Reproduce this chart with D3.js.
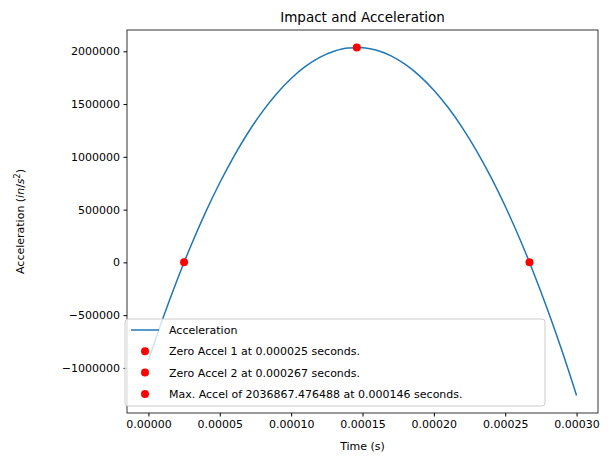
<!DOCTYPE html><html><head><meta charset="utf-8"><script src="https://cdn.jsdelivr.net/npm/d3@7"></script>
<style>body{margin:0;background:#fff}text{font-family:"DejaVu Sans",sans-serif}</style></head><body><svg id="c" width="614" height="467"></svg><script>
const times=[0,0.00001,0.00002,0.00003,0.00004,0.00005,0.00006,0.00007,0.00008,0.00009,0.0001,0.00011,0.00012,0.00013,0.00014,0.00015,0.00016,0.00017,0.00018,0.00019,0.0002,0.00021,0.00022,0.00023,0.00024,0.00025,0.00026,0.00027,0.00028,0.00029,0.0003];
const accel=[-928493,-536231,-171789,164834,473636,754618,1007780,1233122,1430644,1600346,1742228,1856290,1942532,2000954,2031556,2034338,2009300,1956442,1875764,1767266,1630948,1466810,1274852,1055074,807476,532058,228820,-102239,-461117,-847815,-1262333];
const pointT=[0.000025,0.000267,0.000146];
const pointA=[0,0,2036867.476488];
const legendLabels=["Acceleration","Zero Accel 1 at 0.000025 seconds.","Zero Accel 2 at 0.000267 seconds.","Max. Accel of 2036867.476488 at 0.000146 seconds."];
const xTicks=[0,0.00005,0.0001,0.00015,0.0002,0.00025,0.0003];
const yTicks=[-1000000,-500000,0,500000,1000000,1500000,2000000];
const L=127,R=598,T=30,B=413;
const svg=d3.select("#c");
const x=d3.scaleLinear().domain([-0.000015,0.000315]).range([L,R]);
const y=d3.scaleLinear().domain([-1427293,2201827]).range([B,T]);
const fmt=v=>(v<0?"\u2212":"")+Math.abs(v);
svg.append("g").attr("transform",`translate(0,${B})`).call(d3.axisBottom(x).tickValues(xTicks).tickFormat(d=>d.toFixed(5)).tickSize(3.5).tickPadding(3.5))
 .call(g=>{g.select(".domain").remove();g.selectAll("text").attr("font-size",11).attr("fill","#000");});
svg.append("g").attr("transform",`translate(${L},0)`).call(d3.axisLeft(y).tickValues(yTicks).tickFormat(fmt).tickSize(3.5).tickPadding(3.5))
 .call(g=>{g.select(".domain").remove();g.selectAll("text").attr("font-size",11).attr("fill","#000");});
svg.append("clipPath").attr("id","cl").append("rect").attr("x",L).attr("y",T).attr("width",R-L).attr("height",B-T);
svg.append("path").datum(times.map((t,i)=>[t,accel[i]])).attr("clip-path","url(#cl)").attr("fill","none").attr("stroke","#1f77b4").attr("stroke-width",1.5)
 .attr("d",d3.line().x(d=>x(d[0])).y(d=>y(d[1])).curve(d3.curveMonotoneX));
svg.selectAll(".pt").data(pointT).join("circle").attr("cx",d=>x(d)).attr("cy",(d,i)=>y(pointA[i])).attr("r",4).attr("fill","red");
svg.append("rect").attr("x",L).attr("y",T).attr("width",R-L).attr("height",B-T).attr("fill","none").attr("stroke","#000").attr("stroke-width",0.8);
svg.append("text").attr("x",(L+R)/2).attr("y",22).attr("text-anchor","middle").attr("font-size",13.5).text("Impact and Acceleration");
svg.append("text").attr("x",(L+R)/2).attr("y",450).attr("text-anchor","middle").attr("font-size",11).text("Time (s)");
const yl=svg.append("text").attr("transform",`translate(24,${(T+B)/2}) rotate(-90)`).attr("text-anchor","middle").attr("font-size",11);
yl.append("tspan").text("Acceleration (");yl.append("tspan").attr("font-style","italic").text("in");yl.append("tspan").text("/");yl.append("tspan").attr("font-style","italic").text("s");yl.append("tspan").attr("font-size",8).attr("dy",-4).text("2");yl.append("tspan").attr("dy",4).text(")");
const lg=svg.append("g");
lg.append("rect").attr("x",125).attr("y",319).attr("width",420).attr("height",87).attr("rx",3).attr("fill","#fff").attr("fill-opacity",0.8).attr("stroke","#ccc");
legendLabels.forEach((s,i)=>{const yy=330+i*21.3;
 if(i==0)lg.append("line").attr("x1",131).attr("x2",159).attr("y1",yy).attr("y2",yy).attr("stroke","#1f77b4").attr("stroke-width",1.5);
 else lg.append("circle").attr("cx",145).attr("cy",yy).attr("r",4).attr("fill","red");
 lg.append("text").attr("x",169).attr("y",yy+4).attr("font-size",11).text(s);});
</script></body></html>
